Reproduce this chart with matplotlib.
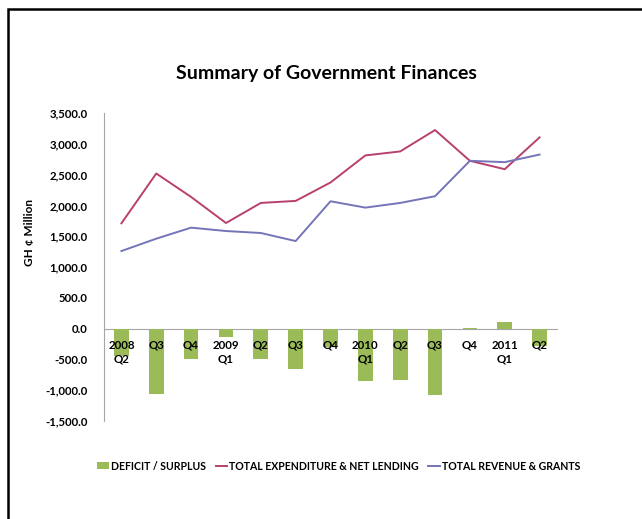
import matplotlib
matplotlib.use("Agg")
import matplotlib.pyplot as plt
from matplotlib.patches import Rectangle
from matplotlib.ticker import FuncFormatter

# quarters from 2008 Q2 to 2011 Q2
quarters = ["2008\nQ2", "Q3", "Q4", "2009\nQ1", "Q2", "Q3", "Q4",
            "2010\nQ1", "Q2", "Q3", "Q4", "2011\nQ1", "Q2"]

# GH¢ million
deficit_surplus = [-450, -1058, -498, -130, -488, -652, -305,
                   -847, -836, -1074, 5, 114, -279]
total_expenditure = [1709, 2518, 2137, 1714, 2040, 2073, 2372,
                     2811, 2876, 3223, 2724, 2588, 3104]
total_revenue = [1259, 1460, 1639, 1584, 1552, 1421, 2067,
                 1964, 2040, 2149, 2724, 2702, 2825]

GREEN = "#9BBB59"
RED = "#B8406F"
BLUE = "#7474B8"

plt.rcParams["font.family"] = ["Lato", "DejaVu Sans"]
plt.rcParams["font.weight"] = "bold"

fig = plt.figure(figsize=(6.42, 5.19), dpi=100)
ax = fig.add_axes([104 / 642, 1 - 421 / 519, 453 / 642, 308 / 519])

x = list(range(len(quarters)))
bars = ax.bar(x, deficit_surplus, width=0.42, color=GREEN, label="DEFICIT / SURPLUS", zorder=1)
l1, = ax.plot(x, total_expenditure, color=RED, lw=1.4, label="TOTAL EXPENDITURE & NET LENDING", zorder=3)
l2, = ax.plot(x, total_revenue, color=BLUE, lw=1.4, label="TOTAL REVENUE & GRANTS", zorder=3)

ax.set_xlim(-0.5, len(quarters) - 0.5)
ax.set_ylim(-1500, 3500)
ax.set_yticks(range(-1500, 3501, 500))
ax.yaxis.set_major_formatter(FuncFormatter(lambda v, p: f"{v:,.1f}"))
ax.set_axisbelow(False)

for s in ["top", "right"]:
    ax.spines[s].set_visible(False)
ax.spines["left"].set_color("#A6A6A6")
ax.spines["bottom"].set_color("#A6A6A6")
ax.spines["bottom"].set_position(("data", 0))
ax.spines["bottom"].set_zorder(0.5)

ax.set_xticks(x)
ax.set_xticklabels(quarters, fontsize=8.3, fontweight="bold", linespacing=1.3)
ax.tick_params(axis="x", length=0, pad=8)
ax.tick_params(axis="y", length=0, pad=12, labelsize=8.2)

fig.text(30 / 642, 1 - 233 / 519, "GH ¢ Million", rotation=90, fontsize=8.5,
         fontweight="bold", ha="center", va="center")
fig.text(326 / 642, 1 - 74 / 519, "Summary of Government Finances",
         fontsize=14, fontweight="bold", ha="center", va="center")

fig.legend([bars, l1, l2],
           ["DEFICIT / SURPLUS", "TOTAL EXPENDITURE & NET LENDING", "TOTAL REVENUE & GRANTS"],
           loc="center", bbox_to_anchor=(339 / 642, 1 - 466 / 519), ncol=3,
           frameon=False, fontsize=7.6, handlelength=1.1, handletextpad=0.2,
           columnspacing=0.9, handleheight=0.6)

# chart frame cut by the image edge
fig.add_artist(Rectangle((7.5 / 642, -0.1), 1.2, 1.1 - 8.5 / 519,
                         transform=fig.transFigure, fill=False,
                         edgecolor="black", lw=1.8, clip_on=False))

fig.savefig("out.png", dpi=100)
